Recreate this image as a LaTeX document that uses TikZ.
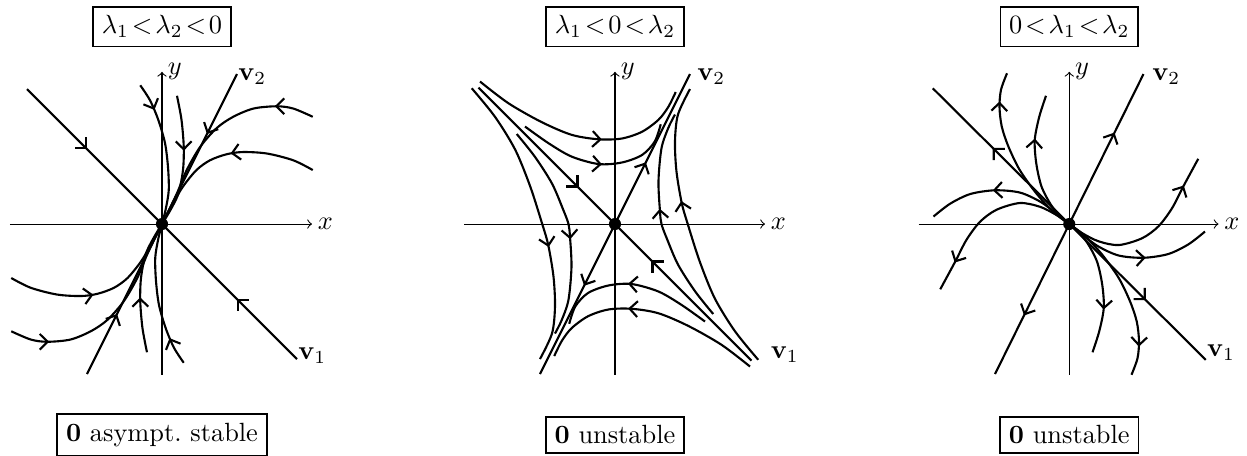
\documentclass[tikz,border=0pt]{standalone}
\usetikzlibrary{decorations.markings}
\tikzset{
  traj/.style={thick},
  eig/.style={thick},
  ax/.style={thin,->},
  lbl/.style={draw, semithick, inner sep=3.33pt},
  vlbl/.style={anchor=west, inner sep=0pt},
  arrowat/.style={postaction={decorate}, decoration={markings, mark=at position #1 with {\draw[thick,-] (-3pt,3pt) -- (0,0) -- (-3pt,-3pt);}}},
  origin/.style={circle, fill, inner sep=0pt, minimum size=4.6pt},
}
\begin{document}
\begin{tikzpicture}
\useasboundingbox (0,0) rectangle (16.627,-6.08);
% ---------------- panel 1: stable node
\begin{scope}[shift={(2.16,-2.987)}]
  \draw[ax] (-2.03,0) -- (2.0,0) node[right, inner sep=2pt] (x1) {$x$};
  \draw[ax] (0,-2.01) -- (0,2.03) node[right, inner sep=2pt] (y1) {$y$};
  \foreach \r in {0,180} {
    \begin{scope}[rotate=\r]
      \draw[eig, arrowat=1.117cm] (-1.8,1.8) -- (0,0);
      \draw[eig, arrowat=0.875cm] (1,2) -- (0,0);
      \draw[traj, arrowat=0.51cm] plot[smooth] coordinates {(2.01,1.43) (1.75,1.54) (1.53,1.57) (1.22,1.54) (0.95,1.43) (0.73,1.28) (0.51,1.03) (0.33,0.72) (0.2,0.41) (0.08,0.16) (0,0)};
      \draw[traj, arrowat=1.12cm] plot[smooth] coordinates {(2.01,0.72) (1.75,0.85) (1.40,0.94) (1.08,0.96) (0.86,0.93) (0.64,0.85) (0.46,0.72) (0.28,0.5) (0.15,0.28) (0,0)};
      \draw[traj, arrowat=0.36cm] plot[smooth] coordinates {(-0.29,1.85) (-0.16,1.65) (-0.05,1.39) (0.04,1.08) (0.08,0.76) (0.09,0.45) (0.05,0.2) (0,0)};
      \draw[traj, arrowat=0.72cm] plot[smooth] coordinates {(0.2,1.71) (0.26,1.39) (0.29,1.03) (0.28,0.72) (0.22,0.41) (0.12,0.2) (0,0)};
    \end{scope}
  }
  \node[origin] (o1) at (0,0) {};
  \node[lbl] (t1) at (0,2.63) {$\lambda_1\!<\!\lambda_2\!<\!0$};
  \node[lbl] (b1) at (0,-2.81) {$\mathbf{0}$ asympt.\ stable};
  \node[vlbl] (v11) at (1.81,-1.75) {$\mathbf{v}_1$};
  \node[vlbl] (v21) at (1.01,1.97) {$\mathbf{v}_2$};
\end{scope}
% ---------------- panel 2: saddle
\begin{scope}[shift={(8.2,-2.987)}]
  \draw[ax] (-2.01,0) -- (2.0,0) node[right, inner sep=2pt] (x2) {$x$};
  \draw[ax] (0,-2.01) -- (0,2.03) node[right, inner sep=2pt] (y2) {$y$};
  \foreach \r in {0,180} {
    \begin{scope}[rotate=\r]
      \draw[eig, arrowat=1.867cm] (-1.82,1.82) -- (0,0);
      \draw[eig, arrowat=0.9cm] (0,0) -- (1,2);
      \draw[traj, arrowat=1.81cm] plot[smooth] coordinates {(-1.80,1.90) (-1.42,1.61) (-0.98,1.36) (-0.58,1.19) (-0.22,1.13) (0.09,1.14) (0.36,1.23) (0.58,1.39) (0.71,1.56) (0.81,1.76)};
      \draw[traj, arrowat=1.14cm] plot[smooth] coordinates {(-1.2,1.30) (-0.89,1.08) (-0.58,0.90) (-0.22,0.80) (0.09,0.82) (0.36,0.92) (0.53,1.10) (0.61,1.33)};
      \draw[traj, arrowat=2.36cm] plot[smooth] coordinates {(-1.91,1.81) (-1.6,1.43) (-1.33,0.99) (-1.13,0.50) (-0.97,0.0) (-0.89,-0.28) (-0.82,-0.70) (-0.8,-1.10) (-0.84,-1.46) (-1.0,-1.80)};
      \draw[traj, arrowat=1.58cm] plot[smooth] coordinates {(-1.31,1.2) (-1.07,0.9) (-0.84,0.54) (-0.69,0.19) (-0.62,0) (-0.6,-0.17) (-0.58,-0.57) (-0.62,-1.01) (-0.71,-1.28) (-0.8,-1.46)};
    \end{scope}
  }
  \node[origin] (o2) at (0,0) {};
  \node[lbl] (t2) at (0,2.63) {$\lambda_1\!<\!0\!<\!\lambda_2$};
  \node[lbl] (b2) at (0,-2.81) {$\mathbf{0}$ unstable};
  \node[vlbl] (v12) at (2.07,-1.74) {$\mathbf{v}_1$};
  \node[vlbl] (v22) at (1.09,1.97) {$\mathbf{v}_2$};
\end{scope}
% ---------------- panel 3: unstable node
\begin{scope}[shift={(14.257,-2.987)}]
  \draw[ax] (-2.01,0) -- (1.99,0) node[right, inner sep=2pt] (x3) {$x$};
  \draw[ax] (0,-2.01) -- (0,2.03) node[right, inner sep=2pt] (y3) {$y$};
  \foreach \r in {0,180} {
    \begin{scope}[rotate=\r]
      \draw[eig, arrowat=1.42cm] (0,0) -- (-1.82,1.81);
      \draw[eig, arrowat=1.34cm] (0,0) -- (0.99,2.0);
      \draw[traj, arrowat=1.93cm] plot[smooth] coordinates {(0,0) (-0.21,0.16) (-0.44,0.41) (-0.66,0.72) (-0.81,1.03) (-0.90,1.30) (-0.93,1.56) (-0.91,1.79) (-0.83,2.01)};
      \draw[traj, arrowat=1.26cm] plot[smooth] coordinates {(0,0) (-0.1,0.08) (-0.24,0.25) (-0.37,0.5) (-0.44,0.81) (-0.46,1.12) (-0.4,1.43) (-0.31,1.71)};
      \draw[traj, arrowat=1.13cm] plot[smooth] coordinates {(0,0) (-0.17,0.14) (-0.39,0.30) (-0.66,0.42) (-0.99,0.45) (-1.32,0.40) (-1.59,0.27) (-1.81,0.1)};
      \draw[traj, arrowat=1.95cm] plot[smooth] coordinates {(0,0) (-0.17,0.12) (-0.39,0.23) (-0.66,0.28) (-0.97,0.19) (-1.19,0.03) (-1.37,-0.21) (-1.52,-0.5) (-1.72,-0.87)};
    \end{scope}
  }
  \node[origin] (o3) at (0,0) {};
  \node[lbl] (t3) at (0,2.63) {$0\!<\!\lambda_1\!<\!\lambda_2$};
  \node[lbl] (b3) at (0,-2.81) {$\mathbf{0}$ unstable};
  \node[vlbl] (v13) at (1.83,-1.72) {$\mathbf{v}_1$};
  \node[vlbl] (v23) at (1.10,1.97) {$\mathbf{v}_2$};
\end{scope}
\end{tikzpicture}
\end{document}
